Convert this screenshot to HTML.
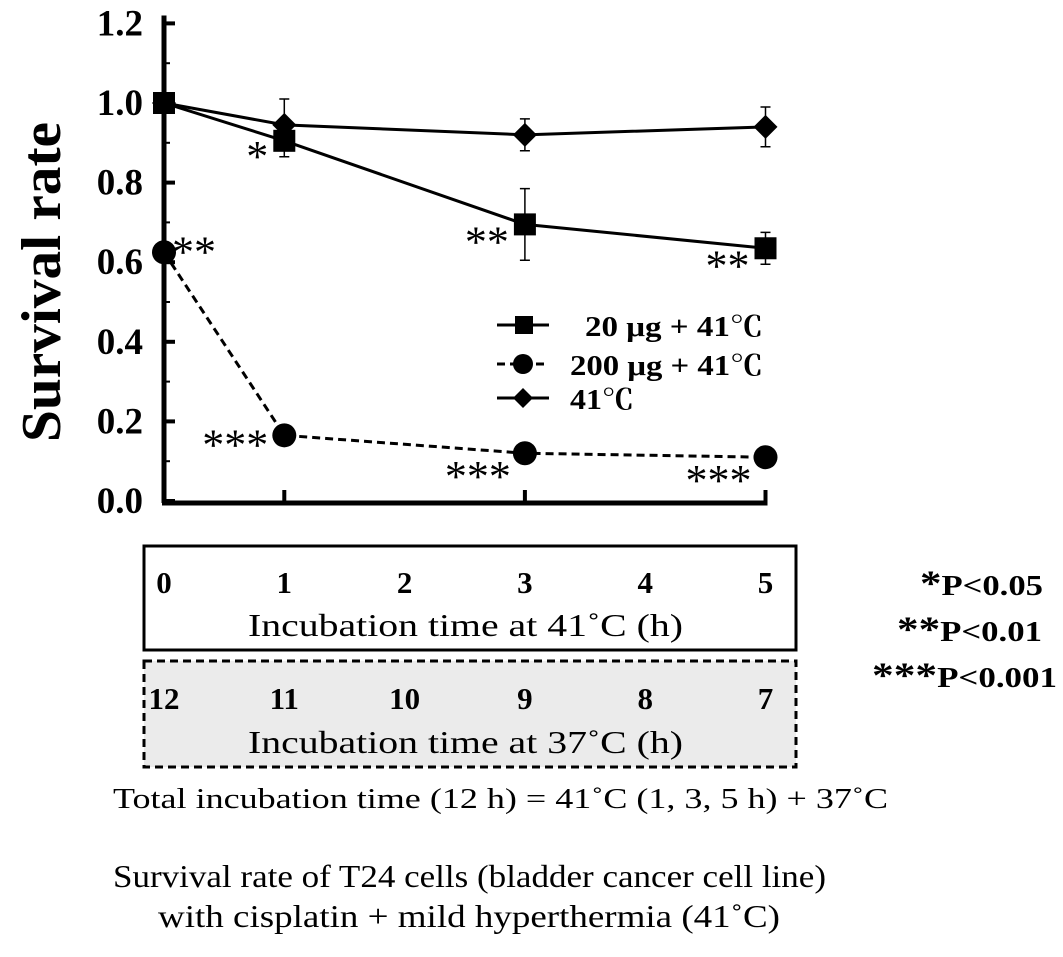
<!DOCTYPE html>
<html><head><meta charset="utf-8"><style>
body{margin:0;background:#fff;}
svg text{font-family:"Liberation Serif","Noto Serif CJK SC",serif;}
</style></head><body>
<svg id="chart" width="1063" height="952" viewBox="0 0 1063 952" xmlns="http://www.w3.org/2000/svg">
<g id="axes"></g>
<g id="series"></g>
<text transform="translate(60,282) rotate(-90)" text-anchor="middle" font-size="56" font-weight="bold" textLength="320" lengthAdjust="spacingAndGlyphs">Survival  rate</text>
<g font-weight="bold" font-size="28">
 <g><line x1="497" y1="325" x2="549" y2="325" stroke="#000" stroke-width="3"/><rect x="515" y="316" width="18" height="18"/><text x="585" y="336" textLength="178" lengthAdjust="spacingAndGlyphs">20 μg + 41℃</text></g>
 <g><line x1="497" y1="364" x2="549" y2="364" stroke="#000" stroke-width="3" stroke-dasharray="8,5"/><circle cx="523" cy="364" r="10"/><text x="570" y="375" textLength="193" lengthAdjust="spacingAndGlyphs">200 μg + 41℃</text></g>
 <g><line x1="497" y1="398" x2="549" y2="398" stroke="#000" stroke-width="3"/><polygon points="523,388 533,398 523,408 513,398"/><text x="570" y="409" textLength="64" lengthAdjust="spacingAndGlyphs">41℃</text></g>
</g>
<rect x="144" y="546" width="652" height="104" fill="none" stroke="#000" stroke-width="3"/>
<rect x="144" y="661" width="652" height="106" fill="#ebebeb" stroke="#000" stroke-width="3" stroke-dasharray="8,5"/>
<g id="boxlabels" font-weight="bold" font-size="31" text-anchor="middle"></g>
<text x="248" y="636" font-size="32" textLength="435" lengthAdjust="spacingAndGlyphs">Incubation time at 41˚C (h)</text>
<text x="248" y="753" font-size="32" textLength="435" lengthAdjust="spacingAndGlyphs">Incubation time at 37˚C (h)</text>
<text x="113" y="808" font-size="29" textLength="775" lengthAdjust="spacingAndGlyphs">Total  incubation time (12 h) = 41˚C (1, 3, 5 h) + 37˚C</text>
<text x="113" y="887" font-size="32" textLength="713" lengthAdjust="spacingAndGlyphs">Survival rate of T24 cells (bladder cancer cell line)</text>
<text x="158" y="927" font-size="32" textLength="622" lengthAdjust="spacingAndGlyphs">with cisplatin + mild hyperthermia (41˚C)</text>
<g font-weight="bold" font-size="29">
 <text x="920" y="595" textLength="123" lengthAdjust="spacingAndGlyphs"><tspan font-size="36">*</tspan>P&lt;0.05</text>
 <text x="897" y="641" textLength="145" lengthAdjust="spacingAndGlyphs"><tspan font-size="36">**</tspan>P&lt;0.01</text>
 <text x="872" y="687" textLength="185" lengthAdjust="spacingAndGlyphs"><tspan font-size="36">***</tspan>P&lt;0.001</text>
</g>
</svg>
<script>
const hours=[0,1,3,5];
const s20=[1.0,0.905,0.695,0.635];
const s20err=[0,0.04,0.09,0.04];
const s200=[0.625,0.165,0.12,0.11];
const s200err=[0,0,0,0];
const s41=[1.0,0.945,0.92,0.94];
const s41err=[0,0.065,0.04,0.05];
const yTicks=[0,0.2,0.4,0.6,0.8,1.0,1.2];
const yTickLabels=["0.0","0.2","0.4","0.6","0.8","1.0","1.2"];
const xTicks=[1,3,5];
const box41Labels=["0","1","2","3","4","5"];
const box37Labels=["12","11","10","9","8","7"];
const stars20=["","*","**","**"];
const stars200=["**","***","***","***"];

const NS="http://www.w3.org/2000/svg";
const X=h=>164+h*120.3;
const Y=v=>501-v*398;
function mk(tag,attrs,parent){const e=document.createElementNS(NS,tag);for(const k in attrs)e.setAttribute(k,attrs[k]);parent.appendChild(e);return e;}
const ax=document.getElementById('axes');
let e=mk('line',{x1:164,y1:Y(1.22),x2:164,y2:503,stroke:'#000','stroke-width':5},ax);


e=mk('line',{x1:162,y1:503,x2:X(5)+2,y2:503,stroke:'#000','stroke-width':5},ax);


yTicks.forEach((v,i)=>{
 let t=mk('line',{x1:164,y1:Y(v),x2:175,y2:Y(v),stroke:'#000','stroke-width':4},ax);
 
 
 if(i<yTicks.length-1){let m=mk('line',{x1:164,y1:Y(v+0.1),x2:170,y2:Y(v+0.1),stroke:'#000','stroke-width':2},ax);
 
 }
 let l=mk('text',{x:143,y:Y(v)+12,'text-anchor':'end','font-size':37,'font-weight':'bold'},ax);
 l.textContent=yTickLabels[i];
 
 
});
xTicks.forEach(h=>{
 let t=mk('line',{x1:X(h),y1:503,x2:X(h),y2:490,stroke:'#000','stroke-width':4},ax);
 
 
});
const sg=document.getElementById('series');
function series(name,vals,errs,dash,marker,stars,starOff){
 const g=mk('g',{},sg);
 
 
 const p=mk('polyline',{points:vals.map((v,i)=>X(hours[i])+','+Y(v)).join(' '),fill:'none',stroke:'#000','stroke-width':3,'stroke-dasharray':dash},g);
 
 
 vals.forEach((v,i)=>{
  const x=X(hours[i]),y=Y(v);
  if(errs[i]>0){const b=mk('path',{d:`M${x},${Y(v+errs[i])}V${Y(v-errs[i])}M${x-5},${Y(v+errs[i])}h10M${x-5},${Y(v-errs[i])}h10`,stroke:'#000','stroke-width':1.5,fill:'none'},g);
   
   }
  let m;
  if(marker==='sq')m=mk('rect',{x:x-11,y:y-11,width:22,height:22},g);
  else if(marker==='ci')m=mk('circle',{cx:x,cy:y,r:12},g);
  else m=mk('polygon',{points:`${x},${y-12} ${x+12},${y} ${x},${y+12} ${x-12},${y}`},g);
  
  
  if(stars[i]){const o=starOff(i);const t=mk('text',{x:x+o[0],y:y+o[1],'font-size':44,'text-anchor':o[2]},g);
   t.textContent=stars[i];
   
   }
 });
}
series('series-41c',s41,s41err,'none','di',[],()=>[0,0,'start']);
series('series-20ug',s20,s20err,'none','sq',stars20,i=>[-16,i===1?30:32,'end']);
series('series-200ug',s200,s200err,'8,5','ci',stars200,i=>i===0?[8,14,'start']:i===1?[-16,24,'end']:[-14,38,'end']);
const bl=document.getElementById('boxlabels');
box41Labels.forEach((s,i)=>{const t=mk('text',{x:X(i),y:593},bl);t.textContent=s;
 
 });
box37Labels.forEach((s,i)=>{const t=mk('text',{x:X(i),y:709},bl);t.textContent=s;
 
 });
</script>
</body></html>
